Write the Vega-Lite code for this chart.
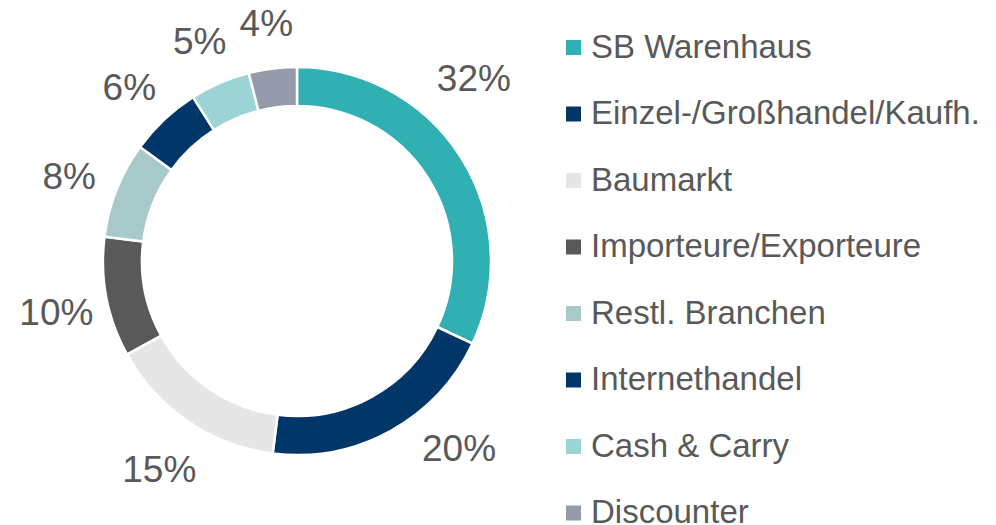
{
  "$schema": "https://vega.github.io/schema/vega-lite/v6.json",
  "width": 594,
  "height": 522,
  "padding": {"left": 0, "top": 0, "right": 402, "bottom": 3},
  "autosize": {"type": "none"},
  "background": "white",
  "config": {"view": {"stroke": null}, "font": "Liberation Sans"},
  "data": {
    "values": [
      {"Branche": "SB Warenhaus", "Anteil": 32, "Label": "32%"},
      {"Branche": "Einzel-/Großhandel/Kaufh.", "Anteil": 20, "Label": "20%"},
      {"Branche": "Baumarkt", "Anteil": 15, "Label": "15%"},
      {"Branche": "Importeure/Exporteure", "Anteil": 10, "Label": "10%"},
      {"Branche": "Restl. Branchen", "Anteil": 8, "Label": "8%"},
      {"Branche": "Internethandel", "Anteil": 6, "Label": "6%"},
      {"Branche": "Cash & Carry", "Anteil": 5, "Label": "5%"},
      {"Branche": "Discounter", "Anteil": 4, "Label": "4%"}
    ]
  },
  "encoding": {
    "theta": {"field": "Anteil", "type": "quantitative", "stack": true},
    "order": {"field": "Anteil", "sort": "descending"}
  },
  "layer": [
    {
      "mark": {"type": "arc", "outerRadius": 194, "innerRadius": 155, "stroke": "white", "strokeWidth": 2.5},
      "encoding": {
        "color": {
          "field": "Branche",
          "type": "nominal",
          "sort": null,
          "scale": {
            "domain": ["SB Warenhaus", "Einzel-/Großhandel/Kaufh.", "Baumarkt", "Importeure/Exporteure", "Restl. Branchen", "Internethandel", "Cash & Carry", "Discounter"],
            "range": ["#31B0B3", "#003768", "#E6E6E6", "#595959", "#A7C9CA", "#003768", "#9CD3D5", "#969BAC"]
          },
          "legend": {
            "title": null,
            "orient": "none",
            "legendX": 557,
            "legendY": 31,
            "padding": 0,
            "symbolType": "square",
            "symbolSize": 225,
            "symbolStrokeWidth": 0,
            "labelFontSize": 33,
            "labelColor": "#595959",
            "labelFont": "Liberation Sans",
            "labelLimit": 0,
            "labelOffset": 1,
            "rowPadding": 32.5
          }
        }
      }
    },
    {
      "mark": {"type": "text", "radius": 245, "dy": 7, "fontSize": 37, "color": "#595959", "font": "Liberation Sans"},
      "encoding": {"text": {"condition": {"test": "datum.Anteil < 20", "field": "Label"}, "value": ""}}
    },
    {
      "mark": {"type": "text", "radius": 245, "dx": -30, "dy": -50, "fontSize": 37, "color": "#595959", "font": "Liberation Sans"},
      "encoding": {"text": {"condition": {"test": "datum.Anteil == 32", "field": "Label"}, "value": ""}}
    },
    {
      "mark": {"type": "text", "radius": 245, "dx": 44, "dy": -26, "fontSize": 37, "color": "#595959", "font": "Liberation Sans"},
      "encoding": {"text": {"condition": {"test": "datum.Anteil == 20", "field": "Label"}, "value": ""}}
    }
  ]
}
